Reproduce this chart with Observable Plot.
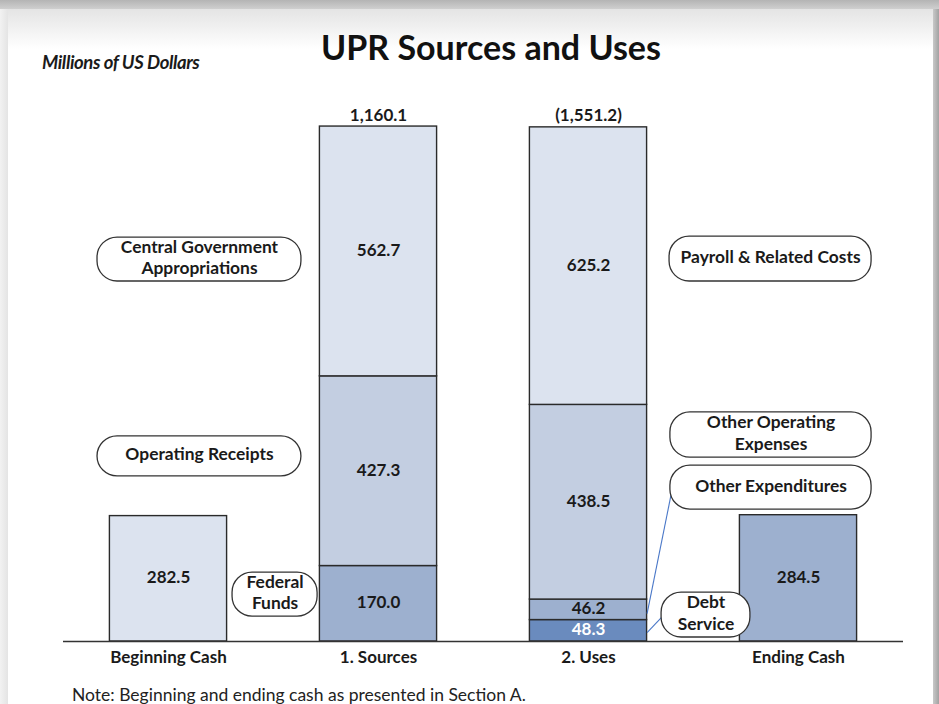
<!DOCTYPE html>
<html>
<head>
<meta charset="utf-8">
<script src="https://cdn.jsdelivr.net/npm/d3@7"></script>
<script src="https://cdn.jsdelivr.net/npm/@observablehq/plot@0.6"></script>
<style>
  html, body { margin: 0; padding: 0; }
  body { width: 939px; height: 704px; overflow: hidden; position: relative; background: #ffffff; font-family: Lato, "Open Sans", sans-serif; }
  .edge-top { position: absolute; left: 0; top: 0; width: 939px; height: 9px; background: linear-gradient(#b4b4b4, #cfcfcf); }
  .edge-left { position: absolute; left: 0; top: 9px; width: 8px; height: 695px; background: linear-gradient(90deg, #f2f2f2, #e4e4e4); }
  .edge-right { position: absolute; left: 933px; top: 9px; width: 6px; height: 695px; background: linear-gradient(90deg, #c8c8c8, #a2a2a2); }
  .card-top { position: absolute; left: 8px; top: 9px; width: 925px; height: 40px; background: linear-gradient(#e4e4e4, #ffffff); }
  #chart { position: absolute; left: 0; top: 0; }
  .title { position: absolute; left: 0; top: 27px; width: 982px; text-align: center; font-size: 34px; line-height: 40px; font-weight: bold; color: #111; }
  .subtitle { position: absolute; left: 42px; top: 51px; font-size: 18.5px; line-height: 22px; font-style: italic; font-weight: bold; letter-spacing: -0.4px; color: #1a1a1a; }
  .note { position: absolute; left: 72px; top: 684px; font-size: 17.5px; line-height: 22px; color: #222; }
</style>
</head>
<body>
<div class="edge-top"></div>
<div class="edge-left"></div>
<div class="edge-right"></div>
<div class="card-top"></div>
<div id="chart"></div>
<div class="title">UPR Sources and Uses</div>
<div class="subtitle">Millions of US Dollars</div>
<div class="note">Note: Beginning and ending cash as presented in Section A.</div>
<script>
// ---------- DATA ----------
const categories = ["Beginning Cash", "1. Sources", "2. Uses", "Ending Cash"];

const beginningNames = ["Beginning Cash"];
const beginningValues = [282.5];

const sourceNames = ["Federal Funds", "Operating Receipts", "Central Government Appropriations"];
const sourceValues = [170.0, 427.3, 562.7];

const useNames = ["Debt Service", "Other Expenditures", "Other Operating Expenses", "Payroll & Related Costs"];
const useValues = [48.3, 46.2, 438.5, 625.2];

const endingNames = ["Ending Cash"];
const endingValues = [284.5];

const totalLabels = ["", "1,160.1", "(1,551.2)", ""];

// ---------- STYLE ----------
const shade = {
  "Beginning Cash": "#dce3ef",
  "Federal Funds": "#9db0cf",
  "Operating Receipts": "#c3cee1",
  "Central Government Appropriations": "#dce3ef",
  "Debt Service": "#6a8bbe",
  "Other Expenditures": "#9db0cf",
  "Other Operating Expenses": "#c3cee1",
  "Payroll & Related Costs": "#dce3ef",
  "Ending Cash": "#9db0cf"
};
const whiteLabel = new Set(["Debt Service"]);
const halfWidth = 0.279;

// callout layout (annotation boxes, in chart units)
const callouts = [
  {text: "Central Government\nAppropriations", x1: -0.338, x2: 0.633, y1: 811, y2: 910},
  {text: "Operating Receipts", x1: -0.338, x2: 0.633, y1: 372, y2: 462},
  {text: "Federal\nFunds", x1: 0.305, x2: 0.710, y1: 56, y2: 155},
  {text: "Payroll & Related Costs", x1: 2.386, x2: 3.348, y1: 811, y2: 912},
  {text: "Other Operating\nExpenses", x1: 2.390, x2: 3.348, y1: 414, y2: 516},
  {text: "Other Expenditures", x1: 2.390, x2: 3.348, y1: 297, y2: 396},
  {text: "Debt\nService", x1: 2.348, x2: 2.771, y1: 9, y2: 110}
];
// leader lines: from the Uses bar (value level) to a callout box
const leaders = [
  {from: 63, to: "Other Expenditures"},
  {from: 20, to: "Debt\nService"}
];

// ---------- BUILD ----------
function stackRows(i, names, values) {
  const ends = d3.cumsum(values);
  return values.map((v, k) => ({
    i, name: names[k], value: v, y1: ends[k] - v, y2: ends[k]
  }));
}
const rows = [
  ...stackRows(0, beginningNames, beginningValues),
  ...stackRows(1, sourceNames, sourceValues),
  ...stackRows(2, useNames, useValues),
  ...stackRows(3, endingNames, endingValues)
];
const tops = categories.map((c, i) => ({
  i, label: totalLabels[i], top: d3.sum(rows.filter(r => r.i === i), r => r.value)
}));
const leaderRows = leaders.map(l => {
  const c = callouts.find(c => c.text === l.to);
  return {x1: 2 + halfWidth, y1: l.from, x2: c.x1 + 0.01, y2: (c.y1 + c.y2) / 2};
});

const FONT = "Lato, 'Open Sans', sans-serif";

const chart = Plot.plot({
  width: 939,
  height: 704,
  margin: 0,
  style: {background: "transparent", fontFamily: FONT, color: "#1a1a1a", overflow: "visible"},
  x: {domain: [-0.5, 3.5], range: [63, 903], axis: null},
  y: {domain: [0, 1200], range: [641, 108.3], axis: null},
  marks: [
    // bars
    Plot.rect(rows, {
      x1: d => d.i - halfWidth, x2: d => d.i + halfWidth,
      y1: "y1", y2: "y2",
      fill: d => shade[d.name],
      stroke: "#2a2a2a", strokeWidth: 1.4
    }),
    // baseline
    Plot.ruleY([0], {x1: -0.5, x2: 3.5, stroke: "#333", strokeWidth: 1.6}),
    // leader lines
    Plot.link(leaderRows, {x1: "x1", y1: "y1", x2: "x2", y2: "y2", stroke: "#4a78c8", strokeWidth: 1.1}),
    // callout boxes
    Plot.rect(callouts, {
      x1: "x1", x2: "x2", y1: "y1", y2: "y2",
      rx: 20, fill: "white", stroke: "#333", strokeWidth: 1.3
    }),
    Plot.text(callouts, {
      x: d => (d.x1 + d.x2) / 2, y: d => (d.y1 + d.y2) / 2,
      text: "text", fontSize: 17.4, fontWeight: "bold", lineHeight: 1.25, dy: -3,
      fill: "#1a1a1a", textAnchor: "middle", lineAnchor: "middle"
    }),
    // value labels
    Plot.text(rows, {
      x: "i", y: d => (d.y1 + d.y2) / 2,
      text: d => d.value.toFixed(1), dy: -1,
      fontSize: 17, fontWeight: "bold", lineAnchor: "middle",
      fill: d => whiteLabel.has(d.name) ? "#ffffff" : "#1a1a1a"
    }),
    // totals
    Plot.text(tops.filter(d => d.label), {
      x: "i", y: "top", text: "label", dy: -6, lineAnchor: "bottom",
      fontSize: 17, fontWeight: "bold", fill: "#1a1a1a"
    }),
    // category labels
    Plot.text(categories, {
      x: (d, i) => i, y: 0, text: d => d, dy: 16, lineAnchor: "middle",
      fontSize: 17, fontWeight: "bold", fill: "#1a1a1a"
    })
  ]
});
document.getElementById("chart").appendChild(chart);
</script>
</body>
</html>
